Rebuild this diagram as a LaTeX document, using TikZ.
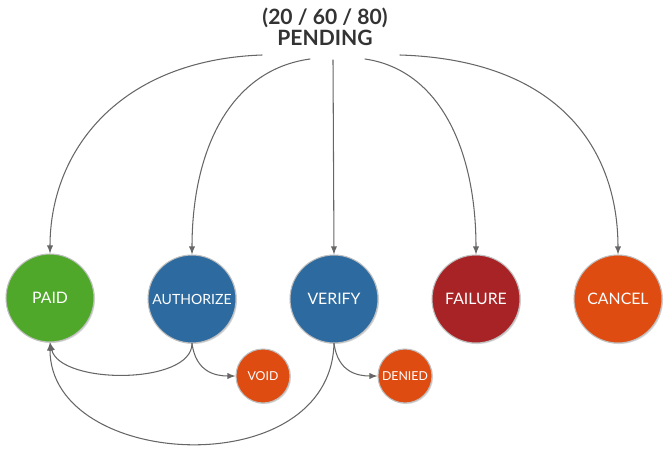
\documentclass[tikz,border=0pt]{standalone}
\usepackage{fontspec}
\setmainfont{Lato}
\usetikzlibrary{shadows}
\definecolor{paidgreen}{HTML}{4FA82A}
\definecolor{stateblue}{HTML}{2D6A9F}
\definecolor{failred}{HTML}{A82326}
\definecolor{cancelorange}{HTML}{DE4C12}
\begin{document}
\begin{tikzpicture}[x=0.02cm, y=-0.02cm, line join=round, line cap=round, >=latex,
	state/.style={circle, minimum size=1.76cm, inner sep=0pt, text=white, font=\small, draw=black!25, line width=0.6pt, drop shadow={shadow xshift=0.6pt, shadow yshift=-0.6pt, opacity=0.3}},
	small/.style={state, minimum size=1.08cm, font=\scriptsize},
	flow/.style={->, draw=black!60, line width=0.6pt}]
	\useasboundingbox (0,0) rectangle (670,450);
	% title
	\node[font=\bfseries\large, text=black!80, align=center] (pending) at (325,27) {(20 / 60 / 80)\\[-2pt] PENDING};
	\coordinate (p1) at (262,55);
	\coordinate (p2) at (310,59);
	\coordinate (p3) at (333,60);
	\coordinate (p4) at (365,59);
	\coordinate (p5) at (400,55);
	% states
	\node[state, fill=paidgreen] (paid) at (50,298) {PAID};
	\node[state, fill=stateblue, font=\footnotesize] (authorize) at (192,299) {AUTHORIZE};
	\node[state, fill=stateblue] (verify) at (334,299) {VERIFY};
	\node[state, fill=failred] (failure) at (476,299) {FAILURE};
	\node[state, fill=cancelorange] (cancel) at (618,299) {CANCEL};
	\node[small, fill=cancelorange] (void) at (263,376) {VOID};
	\node[small, fill=cancelorange] (denied) at (405,376) {DENIED};
	% arrows from pending
	\draw[flow] (p1) .. controls (120,60) and (50,150) .. (paid.north);
	\draw[flow] (p2) .. controls (230,70) and (192,150) .. (authorize.north);
	\draw[flow] (p3) -- (verify.north);
	\draw[flow] (p4) .. controls (440,70) and (476,150) .. (failure.north);
	\draw[flow] (p5) .. controls (560,60) and (618,150) .. (cancel.north);
	% lower arrows
	\draw[flow] (authorize.south) .. controls (192,385) and (60,385) .. (paid.south);
	\draw[flow] (authorize.south) .. controls (196,372) and (215,376) .. (void.west);
	\draw[flow] (verify.south) .. controls (330,485) and (50,470) .. (paid.south);
	\draw[flow] (verify.south) .. controls (338,372) and (357,376) .. (denied.west);
\end{tikzpicture}
\end{document}
